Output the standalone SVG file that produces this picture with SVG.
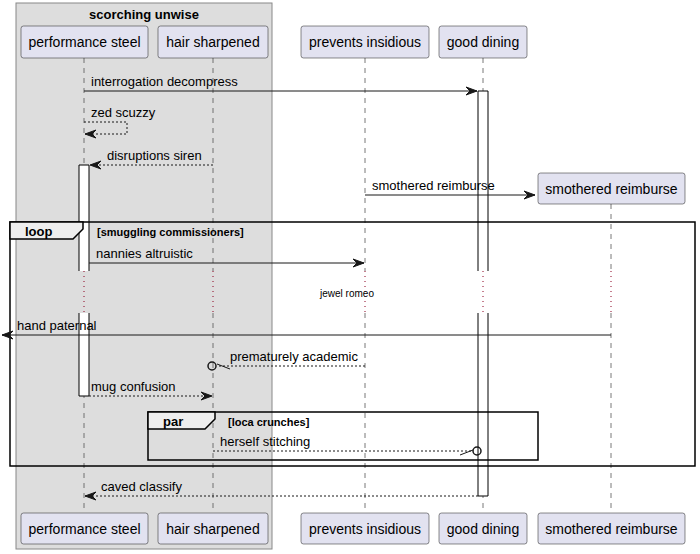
<svg xmlns="http://www.w3.org/2000/svg" width="700" height="554" viewBox="0 0 700 554">
<style>
text{font-family:"Liberation Sans",Arial,sans-serif;fill:#000}
.pbox{fill:#E2E2F0;stroke:#181818;stroke-width:0.5}
.pt{font-size:14px;text-anchor:middle}
.msg{font-size:13px}
.life{stroke:#555;stroke-width:0.8;stroke-dasharray:5,5;fill:none}
.delay{stroke:#8B0020;stroke-width:1;stroke-dasharray:1,4;fill:none}
.actf{fill:#fff;stroke:none}
.acts{fill:none;stroke:#000;stroke-width:1}
.ln{stroke:#181818;stroke-width:1;fill:none}
.dl{stroke:#181818;stroke-width:1;fill:none;stroke-dasharray:2,2}
.ah{fill:#181818;stroke:#181818;stroke-width:1}
.frame{fill:none;stroke:#000;stroke-width:1.5}
.tab{fill:#EEEEEE;stroke:#000;stroke-width:1.5}
.bold{font-weight:bold}
</style>
<g id="group-scorching-unwise">
<rect x="16" y="3" width="256" height="546" fill="#DDDDDD" stroke="#888" stroke-width="1"/>
<text x="144" y="19" class="bold" font-size="13" text-anchor="middle">scorching unwise</text>
</g>
<g id="lifelines">
<path class="life" d="M84,58V271M84,313V513"/>
<path class="delay" d="M84,271V313"/>
<path class="life" d="M213,58V271M213,313V513"/>
<path class="delay" d="M213,271V313"/>
<path class="life" d="M365,58V271M365,313V513"/>
<path class="delay" d="M365,271V313"/>
<path class="life" d="M483,58V271M483,313V513"/>
<path class="delay" d="M483,271V313"/>
<path class="life" d="M611,204V271M611,313V513"/>
<path class="delay" d="M611,271V313"/>
</g>
<g id="activations">
<rect class="actf" x="478" y="91" width="10" height="180"/>
<path class="acts" d="M478,271V91H488V271"/>
<rect class="actf" x="478" y="313" width="10" height="183"/>
<path class="acts" d="M478,313V496H488V313"/>
<rect class="actf" x="79" y="165" width="10" height="106"/>
<path class="acts" d="M79,271V165H89V271"/>
<rect class="actf" x="79" y="313" width="10" height="83"/>
<path class="acts" d="M79,313V396H89V313"/>
</g>
<g id="frames">
<rect class="frame" x="10" y="222" width="685" height="244"/>
<path class="tab" d="M10,222H83V229L73,239H10Z"/>
<text x="25" y="236" class="bold" font-size="13">loop</text>
<text x="97" y="236" class="bold" font-size="11">[smuggling commissioners]</text>
<rect class="frame" x="148" y="412" width="390" height="48"/>
<path class="tab" d="M148,412H215V419L205,429H148Z"/>
<text x="163" y="426" class="bold" font-size="13">par</text>
<text x="228" y="426" class="bold" font-size="11">[loca crunches]</text>
</g>
<g id="participant-performance-steel">
<rect class="pbox" x="21" y="26" width="127" height="32" rx="2.5"/>
<text class="pt" x="84.5" y="47">performance steel</text>
<rect class="pbox" x="21" y="513" width="127" height="31" rx="2.5"/>
<text class="pt" x="84.5" y="534">performance steel</text>
</g>
<g id="participant-hair-sharpened">
<rect class="pbox" x="158" y="26" width="110" height="32" rx="2.5"/>
<text class="pt" x="213" y="47">hair sharpened</text>
<rect class="pbox" x="158" y="513" width="110" height="31" rx="2.5"/>
<text class="pt" x="213" y="534">hair sharpened</text>
</g>
<g id="participant-prevents-insidious">
<rect class="pbox" x="301" y="26" width="128" height="32" rx="2.5"/>
<text class="pt" x="365" y="47">prevents insidious</text>
<rect class="pbox" x="301" y="513" width="128" height="31" rx="2.5"/>
<text class="pt" x="365" y="534">prevents insidious</text>
</g>
<g id="participant-good-dining">
<rect class="pbox" x="439" y="26" width="88" height="32" rx="2.5"/>
<text class="pt" x="483" y="47">good dining</text>
<rect class="pbox" x="439" y="513" width="88" height="31" rx="2.5"/>
<text class="pt" x="483" y="534">good dining</text>
</g>
<g id="participant-smothered-reimburse">
<rect class="pbox" x="538" y="173" width="147" height="31" rx="2.5"/>
<text class="pt" x="611.5" y="194">smothered reimburse</text>
<rect class="pbox" x="538" y="513" width="147" height="31" rx="2.5"/>
<text class="pt" x="611.5" y="534">smothered reimburse</text>
</g>
<g id="connectors">
<path class="ln" d="M84,91H477"/>
<polygon class="ah" points="466,87 477,91 466,95 470,91"/>
<text class="msg" x="91" y="86">interrogation decompress</text>

<path class="dl" d="M84,122H127V134H85"/>
<polygon class="ah" points="96,130 85,134 96,138 92,134"/>
<text class="msg" x="91" y="117">zed scuzzy</text>

<path class="dl" d="M213,165H90"/>
<polygon class="ah" points="101,161 90,165 101,169 97,165"/>
<text class="msg" x="107" y="160">disruptions siren</text>

<path class="ln" d="M365,195H535"/>
<polygon class="ah" points="524,191 535,195 524,199 528,195"/>
<text class="msg" x="372" y="190">smothered reimburse</text>

<path class="ln" d="M89,263H364"/>
<polygon class="ah" points="353,259 364,263 353,267 357,263"/>
<text class="msg" x="96" y="258">nannies altruistic</text>

<text x="347" y="297" font-size="10" text-anchor="middle">jewel romeo</text>

<path class="ln" d="M611,335H2"/>
<polygon class="ah" points="13,331 2,335 13,339 9,335"/>
<text class="msg" x="17" y="330">hand paternal</text>

<path class="dl" d="M365,366H217"/>
<circle cx="212" cy="366" r="4" fill="none" stroke="#181818" stroke-width="1.5"/>
<path class="ln" d="M217,364L230,369"/>
<text class="msg" x="230" y="361">prematurely academic</text>

<path class="dl" d="M89,396H212"/>
<polygon class="ah" points="201,392 212,396 201,400 205,396"/>
<text class="msg" x="91" y="391">mug confusion</text>

<path class="dl" d="M213,451H473"/>
<circle cx="477" cy="451" r="4" fill="none" stroke="#181818" stroke-width="1.5"/>
<path class="ln" d="M460,455L473,450"/>
<text class="msg" x="220" y="446">herself stitching</text>

<path class="dl" d="M478,496H85"/>
<polygon class="ah" points="96,492 85,496 96,500 92,496"/>
<text class="msg" x="101" y="491">caved classify</text>
</g>
</svg>
